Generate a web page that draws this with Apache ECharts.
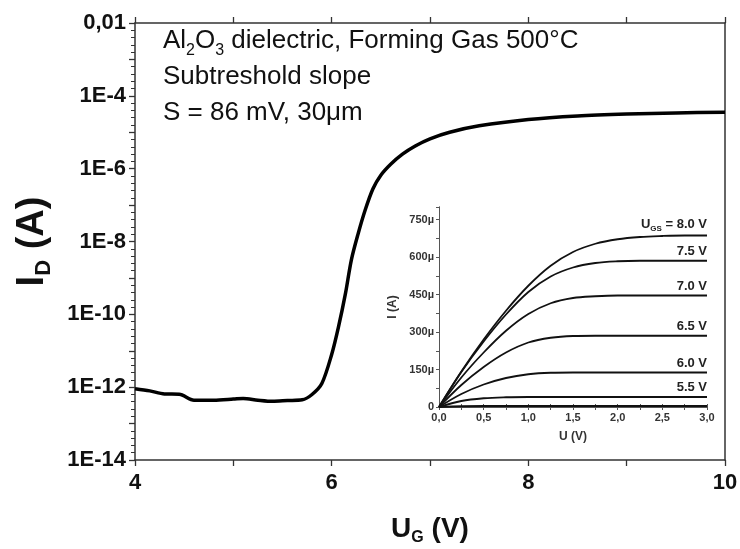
<!DOCTYPE html>
<html>
<head>
<meta charset="utf-8">
<script src="https://cdn.jsdelivr.net/npm/echarts@6/dist/echarts.min.js"></script>
<style>
  html, body { margin: 0; padding: 0; background: #fff; }
  #chart { width: 740px; height: 549px; }
</style>
</head>
<body>
<div id="chart"></div>
<script>
// transfer curve, I_D (A) vs U_G (V)
var ugValues = [4.0, 4.15, 4.3, 4.45, 4.6, 4.8, 5.0, 5.1, 5.25, 5.4, 5.55, 5.7, 5.8, 5.9, 6.0,
                6.07, 6.14, 6.2, 6.27, 6.34, 6.42, 6.5, 6.6, 6.72, 6.85, 7.0, 7.2, 7.5, 8.0, 8.5, 9.0, 9.5, 10.0];
var idValues = [9.1e-13, 7.9e-13, 6.5e-13, 6.4e-13, 4.4e-13, 4.4e-13, 4.7e-13, 4.9e-13, 4.4e-13, 4.1e-13, 4.3e-13, 4.5e-13, 6.3e-13, 1.26e-12, 7.9e-12,
                4.6e-11, 3.7e-10, 3.1e-9, 1.66e-8, 7.2e-8, 2.8e-7, 6.6e-7, 1.32e-6, 2.5e-6, 4.2e-6, 6.6e-6, 1.0e-5, 1.5e-5, 2.24e-5, 2.8e-5, 3.16e-5, 3.4e-5, 3.55e-5];

// output curves (inset), I in µA vs U (V)
var uValues = [0, 0.25, 0.5, 0.75, 1.0, 1.25, 1.5, 1.75, 2.0, 2.25, 2.5, 2.75, 3.0];
var i80 = [0, 142, 270, 385, 485, 565, 620, 653, 671, 680, 684, 686, 686];
var i75 = [0, 140, 262, 370, 460, 522, 558, 576, 583, 585, 585, 585, 585];
var i70 = [0, 118, 218, 305, 372, 415, 436, 443, 446, 446, 446, 446, 446];
var i65 = [0, 88, 160, 218, 258, 277, 284, 285, 285, 285, 285, 285, 285];
var i60 = [0, 52, 90, 116, 131, 137, 138, 138, 138, 138, 138, 138, 138];
var i55 = [0, 24, 35, 39, 40, 40, 40, 40, 40, 40, 40, 40, 40];
var i50 = [0, 3, 4, 4, 4, 4, 4, 4, 4, 4, 4, 4, 4];
var curveLabels = ['{u|U}{s|GS}{u| = 8.0 V}', '7.5 V', '7.0 V', '6.5 V', '6.0 V', '5.5 V', ''];

var FONT = '"Liberation Sans", Arial, sans-serif';
var AX = '#333';

function pairs(xs, ys) {
    return xs.map(function (x, i) { return [x, ys[i]]; });
}

var chart = echarts.init(document.getElementById('chart'), null, { renderer: 'canvas' });

var insetSeries = [i80, i75, i70, i65, i60, i55, i50].map(function (ys, k) {
    return {
        type: 'line',
        xAxisIndex: 2,
        yAxisIndex: 2,
        data: pairs(uValues, ys),
        smooth: 0.35,
        showSymbol: false,
        silent: true,
        lineStyle: { color: '#111', width: 1.8 },
        endLabel: {
            show: curveLabels[k] !== '',
            formatter: curveLabels[k],
            align: 'right',
            verticalAlign: 'bottom',
            offset: [-8, -3],
            color: '#222',
            fontFamily: FONT,
            fontWeight: 'bold',
            fontSize: 13,
            rich: {
                u: { fontFamily: FONT, fontWeight: 'bold', fontSize: 13, color: '#222', lineHeight: 16 },
                s: { fontFamily: FONT, fontWeight: 'bold', fontSize: 8, color: '#222', verticalAlign: 'bottom', lineHeight: 10 }
            }
        }
    };
});

chart.setOption({
    animation: false,
    backgroundColor: '#fff',
    grid: [
        { left: 135, right: 15, top: 23, bottom: 89, outerBoundsMode: 'none' },
        { left: 439, right: 33, top: 207, bottom: 142, outerBoundsMode: 'none' }
    ],
    xAxis: [
        {
            type: 'value', gridIndex: 0, min: 4, max: 10, interval: 2,
            name: '{b|U}{s|G}{b| (V)}',
            nameLocation: 'middle', nameGap: 52,
            nameTextStyle: {
                rich: {
                    b: { fontFamily: FONT, fontWeight: 'bold', fontSize: 28, color: '#111', lineHeight: 34 },
                    s: { fontFamily: FONT, fontWeight: 'bold', fontSize: 16, color: '#111', verticalAlign: 'bottom', lineHeight: 22 }
                }
            },
            axisLine: { lineStyle: { color: AX, width: 1.5 } },
            axisTick: { inside: false, length: 6, lineStyle: { color: AX, width: 1.3 } },
            minorTick: { show: true, splitNumber: 2, length: 6, lineStyle: { color: AX, width: 1.3 } },
            splitLine: { show: false },
            axisLabel: { fontFamily: FONT, fontWeight: 'bold', fontSize: 22, color: '#111', margin: 12 }
        },
        {
            type: 'value', gridIndex: 0, position: 'top', min: 4, max: 10, interval: 2,
            axisLine: { lineStyle: { color: AX, width: 1.5 } },
            axisTick: { length: 6, lineStyle: { color: AX, width: 1.3 } },
            minorTick: { show: true, splitNumber: 2, length: 6, lineStyle: { color: AX, width: 1.3 } },
            splitLine: { show: false },
            axisLabel: { show: false }
        },
        {
            type: 'value', gridIndex: 1, min: 0, max: 3, interval: 0.5,
            name: 'U (V)', nameLocation: 'middle', nameGap: 24,
            nameTextStyle: { fontFamily: FONT, fontWeight: 'bold', fontSize: 12, color: '#333' },
            axisLine: { lineStyle: { color: '#555', width: 1 } },
            axisTick: { length: 3, lineStyle: { color: '#555' } },
            minorTick: { show: true, splitNumber: 2, length: 3, lineStyle: { color: '#555' } },
            splitLine: { show: false },
            axisLabel: {
                fontFamily: FONT, fontWeight: 'bold', fontSize: 11, color: '#333', margin: 5,
                formatter: function (v) { return v.toFixed(1).replace('.', ','); }
            }
        },
        {
            type: 'value', gridIndex: 1, position: 'top', min: 0, max: 3, interval: 0.5,
            axisLine: { lineStyle: { color: '#555', width: 1 } },
            axisTick: { length: 3, lineStyle: { color: '#555' } },
            minorTick: { show: true, splitNumber: 2, length: 3, lineStyle: { color: '#555' } },
            splitLine: { show: false },
            axisLabel: { show: false }
        }
    ],
    yAxis: [
        {
            type: 'value', gridIndex: 0, min: -14, max: -2, interval: 1,
            name: '{b|I}{s|D}{b| (A)}',
            nameLocation: 'middle', nameGap: 80, nameRotate: 90,
            nameTextStyle: {
                rich: {
                    b: { fontFamily: FONT, fontWeight: 'bold', fontSize: 38, color: '#111', lineHeight: 44 },
                    s: { fontFamily: FONT, fontWeight: 'bold', fontSize: 22, color: '#111', verticalAlign: 'bottom', lineHeight: 30 }
                }
            },
            axisLine: { lineStyle: { color: AX, width: 1.5 } },
            axisTick: { length: 6, lineStyle: { color: AX, width: 1.3 } },
            minorTick: { show: true, splitNumber: 5, length: 4, lineStyle: { color: AX, width: 1 } },
            splitLine: { show: false },
            axisLabel: {
                fontFamily: FONT, fontWeight: 'bold', fontSize: 22, color: '#111', margin: 9,
                formatter: function (v) {
                    if (v % 2 !== 0) return '';
                    if (v === -2) return '0,01';
                    return '1E' + v;
                }
            }
        },
        {
            type: 'value', gridIndex: 0, position: 'right', min: -14, max: -2,
            axisLine: { show: true, lineStyle: { color: AX, width: 1.5 } },
            axisTick: { show: false },
            splitLine: { show: false },
            axisLabel: { show: false }
        },
        {
            type: 'value', gridIndex: 1, min: 0, max: 800, interval: 150,
            name: 'I (A)', nameLocation: 'middle', nameGap: 40, nameRotate: 90,
            nameTextStyle: { fontFamily: FONT, fontWeight: 'bold', fontSize: 12, color: '#333' },
            axisLine: { lineStyle: { color: '#555', width: 1 } },
            axisTick: { length: 3, lineStyle: { color: '#555' } },
            minorTick: { show: true, splitNumber: 2, length: 3, lineStyle: { color: '#555' } },
            splitLine: { show: false },
            axisLabel: {
                fontFamily: FONT, fontWeight: 'bold', fontSize: 11, color: '#333', margin: 5,
                formatter: function (v) {
                    if (v > 750) return '';
                    return v === 0 ? '0' : v + 'µ';
                }
            }
        },
        {
            type: 'value', gridIndex: 1, position: 'right', min: 0, max: 800,
            axisLine: { show: true, lineStyle: { color: '#555', width: 1 } },
            axisTick: { show: false },
            splitLine: { show: false },
            axisLabel: { show: false }
        }
    ],
    graphic: [
        {
            type: 'text', left: 163, top: 28,
            style: {
                text: '{t|Al}{s|2}{t|O}{s|3}{t| dielectric, Forming Gas 500°C}\n{t|Subtreshold slope}\n{t|S = 86 mV, 30μm}',
                rich: {
                    t: { fontFamily: FONT, fontSize: 26, fill: '#111', lineHeight: 36 },
                    s: { fontFamily: FONT, fontSize: 16, fill: '#111', verticalAlign: 'bottom', lineHeight: 25 }
                }
            }
        }
    ],
    series: [
        {
            type: 'line',
            xAxisIndex: 0,
            yAxisIndex: 0,
            data: ugValues.map(function (u, i) { return [u, Math.log10(idValues[i])]; }),
            smooth: 0.3,
            showSymbol: false,
            silent: true,
            lineStyle: { color: '#000', width: 3.5 }
        }
    ].concat(insetSeries)
});
</script>
</body>
</html>
